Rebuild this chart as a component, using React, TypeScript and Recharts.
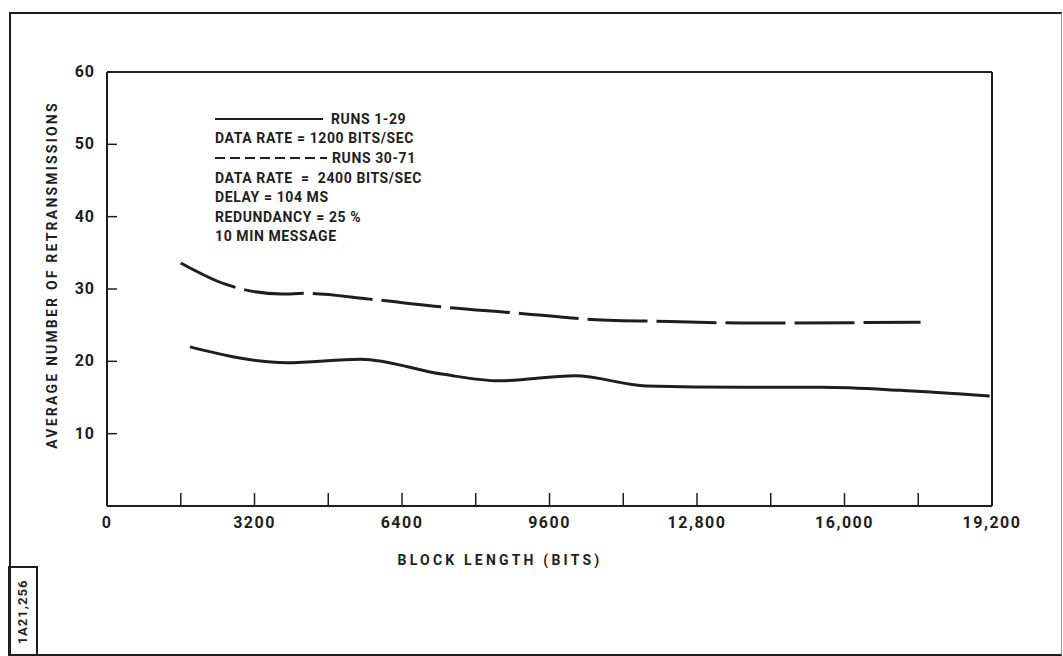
import React from 'react';
import { LineChart, Line, XAxis, YAxis, ReferenceLine, Legend } from 'recharts';

// Retransmissions vs block length
const solidX = [1800, 3900, 5500, 7300, 8500, 10150, 11700, 13800, 15500, 17200, 19150];
const solidY = [22.0, 19.8, 20.3, 18.2, 17.3, 18.0, 16.6, 16.4, 16.4, 16.0, 15.2];
const dashedX = [1600, 2550, 3800, 4300, 5700, 7300, 8850, 10500, 12200, 13800, 17650];
const dashedY = [33.6, 30.7, 29.3, 29.4, 28.6, 27.5, 26.7, 25.8, 25.5, 25.3, 25.4];

const xTicks = [0, 1600, 3200, 4800, 6400, 8000, 9600, 11200, 12800, 14400, 16000, 17600, 19200];
const xTickLabels = ['0', '', '3200', '', '6400', '', '9600', '', '12,800', '', '16,000', '', '19,200'];
const yTicks = [10, 20, 30, 40, 50, 60];
const yTickLabels = ['10', '20', '30', '40', '50', '60'];

const seriesNames = ['RUNS 1-29', 'RUNS 30-71'];
const seriesRates = ['DATA RATE = 1200 BITS/SEC', 'DATA RATE  =  2400 BITS/SEC'];
const notes = ['DELAY = 104 MS', 'REDUNDANCY = 25 %', '10 MIN MESSAGE'];

const xTitle = 'BLOCK LENGTH (BITS)';
const yTitle = 'AVERAGE NUMBER OF RETRANSMISSIONS';
const figTag = '1A21,256';

const INK = '#1e1e1e';
const FONT = 'Roboto, "DejaVu Sans", sans-serif';
const DASH = '60 9';

const solidData = solidX.map((x, i) => ({ x, y: solidY[i] }));
const dashedData = dashedX.map((x, i) => ({ x, y: dashedY[i] }));

function XTick(props: any) {
  const { x, y, payload } = props;
  const i = xTicks.indexOf(payload.value);
  const label = xTickLabels[i];
  const inner = payload.value !== 0 && payload.value !== 19200;
  return (
    <g>
      {inner && <line x1={x} y1={y} x2={x} y2={y - 13} stroke={INK} strokeWidth={1.5} />}
      {label && (
        <text x={x} y={y + 22} textAnchor="middle" fill={INK}
          style={{ fontFamily: FONT, fontSize: 16, fontWeight: 700, letterSpacing: 1.5 }}>
          {label}
        </text>
      )}
    </g>
  );
}

function YTick(props: any) {
  const { x, y, payload } = props;
  const i = yTicks.indexOf(payload.value);
  return (
    <g>
      {payload.value !== 60 && <line x1={x} y1={y} x2={x + 10} y2={y} stroke={INK} strokeWidth={1.5} />}
      <text x={x - 12} y={y + 5} textAnchor="end" fill={INK}
        style={{ fontFamily: FONT, fontSize: 16, fontWeight: 700, letterSpacing: 1 }}>
        {yTickLabels[i]}
      </text>
    </g>
  );
}

function NoteLegend() {
  const row: React.CSSProperties = { height: 19.6, display: 'flex', alignItems: 'center', whiteSpace: 'pre' };
  return (
    <div style={{ fontFamily: FONT, fontSize: 14, fontWeight: 700, color: INK, letterSpacing: 0.6 }}>
      <div style={row}>
        <svg width={108} height={6}><line x1={0} y1={3} x2={108} y2={3} stroke={INK} strokeWidth={2} /></svg>
        <span style={{ marginLeft: 8 }}>{seriesNames[0]}</span>
      </div>
      <div style={row}>{seriesRates[0]}</div>
      <div style={row}>
        <svg width={112} height={6}><line x1={0} y1={3} x2={112} y2={3} stroke={INK} strokeWidth={2} strokeDasharray="10 5" /></svg>
        <span style={{ marginLeft: 5 }}>{seriesNames[1]}</span>
      </div>
      <div style={row}>{seriesRates[1]}</div>
      {notes.map((n) => (
        <div key={n} style={row}>{n}</div>
      ))}
    </div>
  );
}

export default function App() {
  return (
    <div style={{ position: 'fixed', left: 0, top: 0, width: 1063, height: 656, background: '#fff', overflow: 'hidden' }}>
      {/* scanned page frame */}
      <div style={{ position: 'absolute', left: 9, top: 12, width: 1050, height: 640, border: `2px solid ${INK}`, borderRight: '1px solid #999' }} />
      <div style={{ position: 'absolute', left: 8, top: 566, width: 26, height: 88, border: `2px solid ${INK}` }}>
        <div style={{ position: 'absolute', left: -32, top: 34, width: 90, height: 20, lineHeight: '20px', textAlign: 'center',
          transform: 'rotate(-90deg)', fontFamily: FONT, fontSize: 13, fontWeight: 700, color: INK, letterSpacing: 1 }}>
          {figTag}
        </div>
      </div>

      <div style={{ position: 'absolute', left: 0, top: 0 }}>
        <LineChart width={1063} height={656} margin={{ top: 72, right: 71, bottom: 0, left: 0 }}>
          <XAxis type="number" dataKey="x" domain={[0, 19200]} ticks={xTicks} interval={0}
            height={150} tickSize={0} tickMargin={0} tickLine={false}
            axisLine={{ stroke: INK, strokeWidth: 2 }} tick={<XTick />} allowDataOverflow />
          <YAxis type="number" dataKey="y" domain={[0, 60]} ticks={yTicks} interval={0}
            width={107} tickSize={0} tickMargin={0} tickLine={false}
            axisLine={{ stroke: INK, strokeWidth: 2 }} tick={<YTick />} allowDataOverflow />
          <ReferenceLine y={60} stroke={INK} strokeWidth={2} />
          <ReferenceLine x={19200} stroke={INK} strokeWidth={2} />
          <Legend layout="horizontal" verticalAlign="middle" align="center" content={<NoteLegend />}
            wrapperStyle={{ left: 215, top: 109, width: 'auto', height: 'auto' }} />
          <Line data={solidData} dataKey="y" name={seriesNames[0]} type="monotone" stroke={INK}
            strokeWidth={3} dot={false} activeDot={false} isAnimationActive={false} />
          <Line data={dashedData} dataKey="y" name={seriesNames[1]} type="monotone" stroke={INK}
            strokeWidth={3} strokeDasharray={DASH} dot={false} activeDot={false} isAnimationActive={false} />
        </LineChart>
      </div>

      <div style={{ position: 'absolute', left: 52 - 200, top: 275 - 10, width: 400, height: 20, lineHeight: '20px',
        textAlign: 'center', transform: 'rotate(-90deg)', fontFamily: FONT, fontSize: 14, fontWeight: 700,
        color: INK, letterSpacing: 2.2, whiteSpace: 'nowrap' }}>
        {yTitle}
      </div>
      <div style={{ position: 'absolute', left: 500 - 200, top: 560 - 10, width: 400, height: 20, lineHeight: '20px',
        textAlign: 'center', fontFamily: FONT, fontSize: 14, fontWeight: 700, color: INK, letterSpacing: 3.2,
        whiteSpace: 'pre' }}>
        {xTitle}
      </div>
    </div>
  );
}
